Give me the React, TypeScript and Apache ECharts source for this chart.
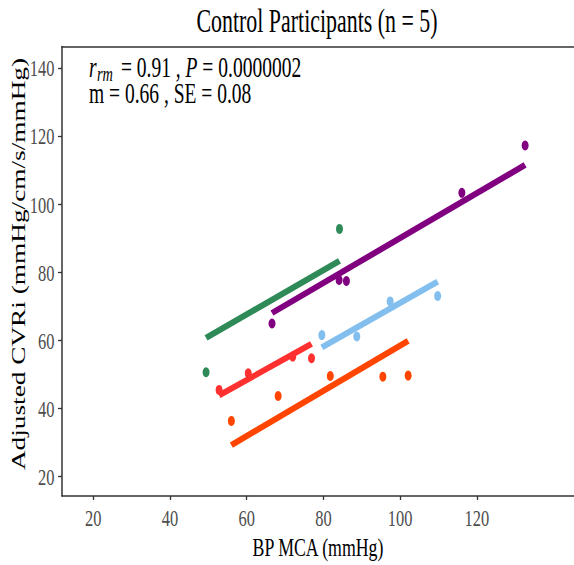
import React, { useEffect, useRef } from "react";
import * as echarts from "echarts";

// ---- texts ----
const titleText = "Control Participants (n = 5)";
const xAxisTitle = "BP MCA (mmHg)";
const yAxisTitle = "Adjusted CVRi (mmHg/cm/s/mmHg)";
const statLine2 = "m = 0.66 , SE = 0.08";

// ---- tick labels ----
const xTicks = [20, 40, 60, 80, 100, 120];
const yTicks = [20, 40, 60, 80, 100, 120, 140];

// ---- participants (points) ----
const p1X = [49.4, 84.2];
const p1Y = [50.7, 92.8];
const p2X = [66.6, 84.1, 86.0, 116.1, 132.6];
const p2Y = [65.0, 77.8, 77.5, 103.4, 117.3];
const p3X = [79.6, 88.7, 97.4, 109.8];
const p3Y = [61.6, 61.2, 71.5, 73.1];
const p4X = [52.8, 60.4, 72.0, 76.9];
const p4Y = [45.5, 50.4, 55.3, 54.8];
const p5X = [56.0, 68.2, 81.8, 95.5, 102.1];
const p5Y = [36.4, 43.7, 49.6, 49.4, 49.7];

// ---- fitted lines (start, end) ----
const p1FitX = [49.4, 84.2];
const p1FitY = [60.8, 83.4];
const p2FitX = [66.6, 132.6];
const p2FitY = [68.1, 111.6];
const p3FitX = [79.6, 109.8];
const p3FitY = [58.0, 77.3];
const p4FitX = [52.8, 76.9];
const p4FitY = [43.9, 59.0];
const p5FitX = [56.0, 102.1];
const p5FitY = [29.3, 59.9];

const participantColors = ["#2E8B57", "#800080", "#82BFEE", "#FF3030", "#FF4500"];

const participants = [
  { name: "P1", x: p1X, y: p1Y, fx: p1FitX, fy: p1FitY },
  { name: "P2", x: p2X, y: p2Y, fx: p2FitX, fy: p2FitY },
  { name: "P3", x: p3X, y: p3Y, fx: p3FitX, fy: p3FitY },
  { name: "P4", x: p4X, y: p4Y, fx: p4FitX, fy: p4FitY },
  { name: "P5", x: p5X, y: p5Y, fx: p5FitX, fy: p5FitY },
];

const X_MIN = 11.84;
const X_MAX = 145.35;
const Y_MIN = 14.33;
const Y_MAX = 146.4;

const FONT = "'Liberation Serif', 'Times New Roman', serif";
const SX = 0.7;
const AXIS_COLOR = "#333333";

export default function App() {
  const ref = useRef<HTMLDivElement>(null);

  useEffect(() => {
    const chart = echarts.init(ref.current!, null, { renderer: "svg" });
    const series: any[] = [];
    participants.forEach((p, i) => {
      series.push({
        type: "scatter",
        name: p.name,
        data: p.x.map((v, j) => [v, p.y[j]]),
        symbol: "circle",
        symbolSize: [7, 10],
        itemStyle: { color: participantColors[i], opacity: 1 },
        z: 2,
        silent: true,
      });
    });
    participants.forEach((p, i) => {
      series.push({
        type: "line",
        name: p.name + " fit",
        data: p.fx.map((v, j) => [v, p.fy[j]]),
        symbol: "none",
        showSymbol: false,
        lineStyle: { color: participantColors[i], width: 6, cap: "butt" },
        z: 3,
        silent: true,
      });
    });

    chart.setOption({
      animation: false,
      grid: {
        left: 62,
        top: 46.5,
        right: 0,
        bottom: 69,
        show: false,
      },
      xAxis: [
        {
          type: "value",
          position: "bottom",
          min: X_MIN,
          max: X_MAX,
          axisLine: { show: true, onZero: false, lineStyle: { color: AXIS_COLOR, width: 1.5 } },
          axisTick: {
            show: true,
            length: 4,
            customValues: xTicks,
            lineStyle: { color: AXIS_COLOR, width: 1.3 },
          },
          axisLabel: { show: false },
          splitLine: { show: false },
        },
        {
          type: "value",
          position: "top",
          min: X_MIN,
          max: X_MAX,
          axisLine: { show: true, onZero: false, lineStyle: { color: AXIS_COLOR, width: 1.5 } },
          axisTick: { show: false },
          axisLabel: { show: false },
          splitLine: { show: false },
        },
      ],
      yAxis: {
        type: "value",
        min: Y_MIN,
        max: Y_MAX,
        axisLine: { show: true, onZero: false, lineStyle: { color: AXIS_COLOR, width: 1.5 } },
        axisTick: {
          show: true,
          length: 4,
          customValues: yTicks,
          lineStyle: { color: AXIS_COLOR, width: 1.3 },
        },
        axisLabel: { show: false },
        splitLine: { show: false },
      },
      series,
    });

    const els: any[] = [];
    xTicks.forEach((v) => {
      const px = chart.convertToPixel({ xAxisIndex: 0 }, v) as number;
      els.push({
        type: "text",
        x: px,
        y: 518.3,
        scaleX: SX,
        silent: true,
        style: {
          text: String(v),
          fontFamily: FONT,
          fontSize: 23.5,
          fill: "#4D4D4D",
          align: "center",
          textAlign: "center",
          verticalAlign: "middle",
          textVerticalAlign: "middle",
        },
      });
    });
    yTicks.forEach((v) => {
      const py = chart.convertToPixel({ yAxisIndex: 0 }, v) as number;
      els.push({
        type: "text",
        x: 54.5,
        y: py,
        scaleX: SX,
        silent: true,
        style: {
          text: String(v),
          fontFamily: FONT,
          fontSize: 23.5,
          fill: "#4D4D4D",
          align: "right",
          textAlign: "right",
          verticalAlign: "middle",
          textVerticalAlign: "middle",
        },
      });
    });
    // title
    els.push({
      type: "text",
      x: 317,
      y: 20.8,
      scaleX: 0.67,
      silent: true,
      style: {
        text: titleText,
        fontFamily: FONT,
        fontSize: 32.7,
        fill: "#000000",
        align: "center",
        textAlign: "center",
        verticalAlign: "middle",
        textVerticalAlign: "middle",
      },
    });
    // x axis title
    els.push({
      type: "text",
      x: 318,
      y: 547,
      scaleX: 0.685,
      silent: true,
      style: {
        text: xAxisTitle,
        fontFamily: FONT,
        fontSize: 26,
        fill: "#000000",
        align: "center",
        textAlign: "center",
        verticalAlign: "middle",
        textVerticalAlign: "middle",
      },
    });
    // y axis title
    els.push({
      type: "text",
      x: 18,
      y: 264,
      rotation: Math.PI / 2,
      scaleY: 0.72,
      silent: true,
      style: {
        text: yAxisTitle,
        fontFamily: FONT,
        fontSize: 27.3,
        fill: "#000000",
        align: "center",
        textAlign: "center",
        verticalAlign: "middle",
        textVerticalAlign: "middle",
      },
    });
    // annotation line 1
    els.push({
      type: "text",
      x: 89,
      y: 67.4,
      scaleX: 0.685,
      silent: true,
      style: {
        text: "r",
        fontFamily: FONT,
        fontSize: 28.5,
        fontStyle: "italic",
        fill: "#000000",
        align: "left",
        textAlign: "left",
        verticalAlign: "middle",
        textVerticalAlign: "middle",
      },
    });
    els.push({
      type: "text",
      x: 97,
      y: 73.5,
      scaleX: 0.685,
      silent: true,
      style: {
        text: "rm",
        fontFamily: FONT,
        fontSize: 21,
        fontStyle: "italic",
        fill: "#000000",
        align: "left",
        textAlign: "left",
        verticalAlign: "middle",
        textVerticalAlign: "middle",
      },
    });
    els.push({
      type: "text",
      x: 116,
      y: 67.4,
      scaleX: 0.685,
      silent: true,
      style: {
        text: " = 0.91 , {i|P} = 0.0000002",
        fontFamily: FONT,
        fontSize: 28.5,
        fill: "#000000",
        align: "left",
        textAlign: "left",
        verticalAlign: "middle",
        textVerticalAlign: "middle",
        rich: {
          i: { fontFamily: FONT, fontSize: 28.5, fontStyle: "italic", fill: "#000000" },
        },
      },
    });
    els.push({
      type: "text",
      x: 89,
      y: 93.4,
      scaleX: 0.685,
      silent: true,
      style: {
        text: statLine2,
        fontFamily: FONT,
        fontSize: 28.5,
        fill: "#000000",
        align: "left",
        textAlign: "left",
        verticalAlign: "middle",
        textVerticalAlign: "middle",
      },
    });

    chart.setOption({ graphic: { elements: els } });

    return () => chart.dispose();
  }, []);

  return (
    <div
      ref={ref}
      style={{ position: "absolute", left: 0, top: 0, width: 574, height: 565 }}
    />
  );
}
